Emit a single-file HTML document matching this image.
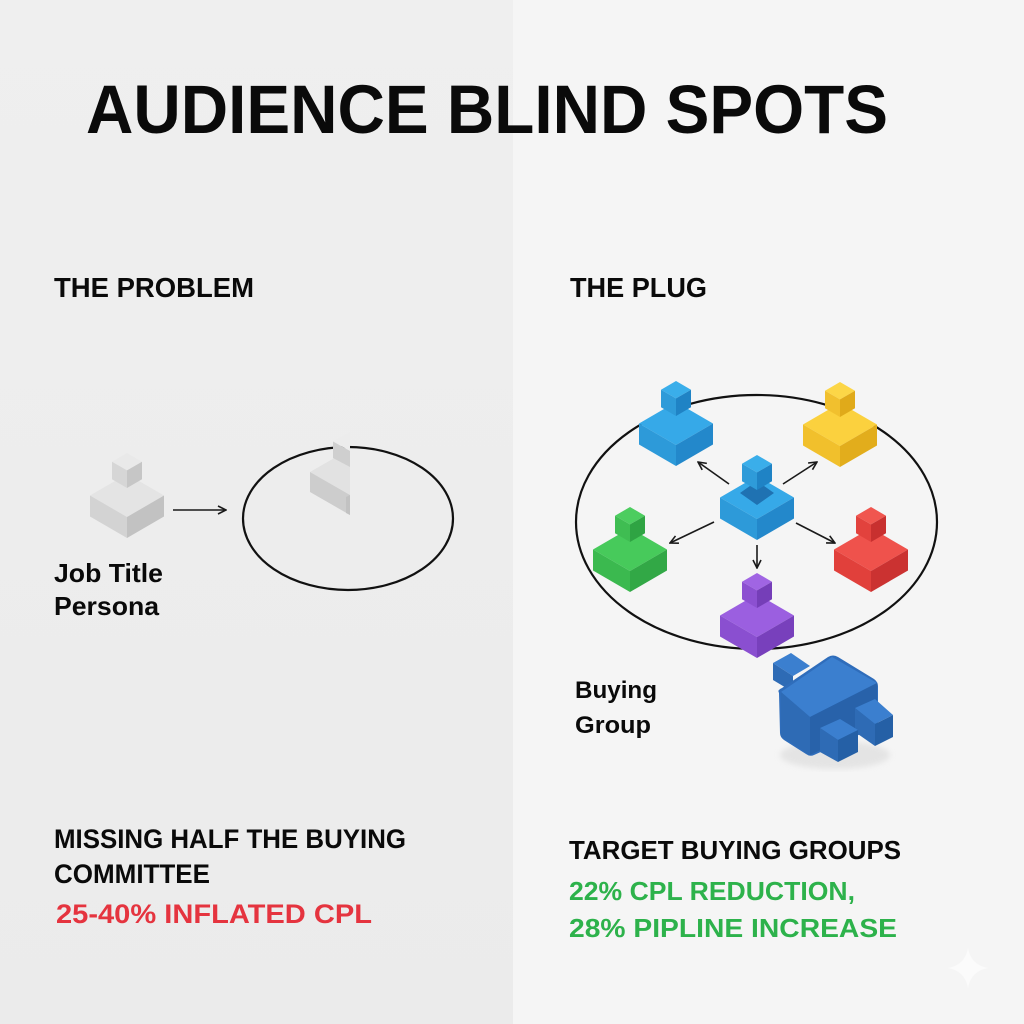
<!DOCTYPE html>
<html>
<head>
<meta charset="utf-8">
<style>
html,body{margin:0;padding:0;}
body{width:1024px;height:1024px;overflow:hidden;background:#f5f5f5;}
svg{display:block;}
text{font-family:"Liberation Sans",Arial,sans-serif;font-weight:bold;}
.gray .t{fill:#e4e4e4}.gray .l{fill:#d3d3d3}.gray .r{fill:#c2c2c2}
.gray .ct{fill:#e9e9e9}.gray .cl{fill:#d6d6d6}.gray .cr{fill:#c6c6c6}
.blue .t{fill:#36a9e8}.blue .l{fill:#2d9ad9}.blue .r{fill:#2388cb}
.blue .ct{fill:#3aaeea}.blue .cl{fill:#2e9bd9}.blue .cr{fill:#1f83c5}
.yellow .t{fill:#fbd13e}.yellow .l{fill:#f1c02c}.yellow .r{fill:#e2ad1c}
.yellow .ct{fill:#fcd647}.yellow .cl{fill:#f1c02e}.yellow .cr{fill:#e0aa1a}
.green .t{fill:#47ca5b}.green .l{fill:#3bb94f}.green .r{fill:#32a846}
.green .ct{fill:#4ccd5f}.green .cl{fill:#3fbd52}.green .cr{fill:#2fa443}
.red .t{fill:#ef524c}.red .l{fill:#e1403b}.red .r{fill:#cb3231}
.red .ct{fill:#f0564f}.red .cl{fill:#e2423d}.red .cr{fill:#c8302f}
.purple .t{fill:#9b5fe0}.purple .l{fill:#8a4fd0}.purple .r{fill:#7840bc}
.purple .ct{fill:#a065e3}.purple .cl{fill:#8c50d1}.purple .cr{fill:#753eb8}
</style>
</head>
<body>
<svg width="1024" height="1024" viewBox="0 0 1024 1024" xmlns="http://www.w3.org/2000/svg">
<defs>
<linearGradient id="lbg" x1="0" y1="0" x2="0" y2="1">
<stop offset="0" stop-color="#efefef"/>
<stop offset="1" stop-color="#ebebeb"/>
</linearGradient>
<marker id="ah" viewBox="0 0 10 10" refX="9" refY="5" markerWidth="10" markerHeight="10" markerUnits="userSpaceOnUse" orient="auto">
<path d="M1,1 L9,5 L1,9" fill="none" stroke="#1a1a1a" stroke-width="1.6"/>
</marker>
<filter id="blur"><feGaussianBlur stdDeviation="3"/></filter>
<g id="pawnshape">
</g>
</defs>

<rect x="0" y="0" width="513" height="1024" fill="url(#lbg)"/>
<rect x="513" y="0" width="511" height="1024" fill="#f5f5f5"/>

<!-- Title -->
<text x="86" y="133" font-size="69" fill="#0a0a0a" textLength="802" lengthAdjust="spacingAndGlyphs">AUDIENCE BLIND SPOTS</text>

<text x="54" y="297" font-size="28" fill="#0a0a0a" textLength="200" lengthAdjust="spacingAndGlyphs">THE PROBLEM</text>
<text x="570" y="297" font-size="28" fill="#0a0a0a" textLength="137" lengthAdjust="spacingAndGlyphs">THE PLUG</text>

<!-- Left gray pawn -->
<g class="gray" transform="translate(127,453)">
<polygon class="t" points="0,21 37,42.5 0,64 -37,42.5"/>
<polygon class="l" points="-37,42.5 0,64 0,85 -37,63.5"/>
<polygon class="r" points="0,64 37,42.5 37,63.5 0,85"/>
<polygon class="ct" points="0,0 15,8.7 0,17.4 -15,8.7"/>
<polygon class="cl" points="-15,8.7 0,17.4 0,35 -15,26.3"/>
<polygon class="cr" points="0,17.4 15,8.7 15,26.3 0,35"/>
</g>

<line x1="173" y1="510" x2="226" y2="510" stroke="#1a1a1a" stroke-width="1.6" marker-end="url(#ah)"/>

<ellipse cx="348" cy="518.5" rx="105" ry="71.5" fill="none" stroke="#111" stroke-width="2.2"/>

<!-- half-cut gray shape -->
<g>
<polygon points="310,472 350,449 350,495" fill="#e2e2e2"/>
<polygon points="310,472 350,495 350,515 310,492" fill="#cdcdcd"/>
<polygon points="350,495 350,515 346,513 346,497" fill="#c2c2c2"/>
<polygon points="350,432 333,441.5 350,451" fill="#ececec"/>
<polygon points="333,441.5 350,451 350,467 333,458" fill="#cfcfcf"/>
</g>

<text x="54" y="582" font-size="26" fill="#0a0a0a" textLength="109" lengthAdjust="spacingAndGlyphs">Job Title</text>
<text x="54" y="615" font-size="26" fill="#0a0a0a" textLength="105" lengthAdjust="spacingAndGlyphs">Persona</text>

<!-- Right ellipse -->
<ellipse cx="756.5" cy="522" rx="180.5" ry="127" fill="none" stroke="#111" stroke-width="2.2"/>

<!-- arrows from center -->
<g stroke="#1a1a1a" stroke-width="1.6" marker-end="url(#ah)">
<line x1="729" y1="484" x2="698" y2="462"/>
<line x1="783" y1="484" x2="817" y2="462"/>
<line x1="714" y1="522" x2="670" y2="543"/>
<line x1="796" y1="523" x2="835" y2="543"/>
<line x1="757" y1="545" x2="757" y2="568"/>
</g>

<!-- Blue top-left -->
<g class="blue" transform="translate(676,381)">
<polygon class="t" points="0,21 37,42.5 0,64 -37,42.5"/>
<polygon class="l" points="-37,42.5 0,64 0,85 -37,63.5"/>
<polygon class="r" points="0,64 37,42.5 37,63.5 0,85"/>
<polygon class="ct" points="0,0 15,8.7 0,17.4 -15,8.7"/>
<polygon class="cl" points="-15,8.7 0,17.4 0,35 -15,26.3"/>
<polygon class="cr" points="0,17.4 15,8.7 15,26.3 0,35"/>
</g>

<!-- Yellow -->
<g class="yellow" transform="translate(840,382)">
<polygon class="t" points="0,21 37,42.5 0,64 -37,42.5"/>
<polygon class="l" points="-37,42.5 0,64 0,85 -37,63.5"/>
<polygon class="r" points="0,64 37,42.5 37,63.5 0,85"/>
<polygon class="ct" points="0,0 15,8.7 0,17.4 -15,8.7"/>
<polygon class="cl" points="-15,8.7 0,17.4 0,35 -15,26.3"/>
<polygon class="cr" points="0,17.4 15,8.7 15,26.3 0,35"/>
</g>

<!-- Center blue -->
<g class="blue" transform="translate(757,455)">
<polygon class="t" points="0,21 37,42.5 0,64 -37,42.5"/>
<polygon class="l" points="-37,42.5 0,64 0,85 -37,63.5"/>
<polygon class="r" points="0,64 37,42.5 37,63.5 0,85"/>
<polygon points="0,26 17,38 0,50 -17,38" fill="#1f72b2"/>
<polygon class="ct" points="0,0 15,8.7 0,17.4 -15,8.7"/>
<polygon class="cl" points="-15,8.7 0,17.4 0,35 -15,26.3"/>
<polygon class="cr" points="0,17.4 15,8.7 15,26.3 0,35"/>
</g>

<!-- Green -->
<g class="green" transform="translate(630,507)">
<polygon class="t" points="0,21 37,42.5 0,64 -37,42.5"/>
<polygon class="l" points="-37,42.5 0,64 0,85 -37,63.5"/>
<polygon class="r" points="0,64 37,42.5 37,63.5 0,85"/>
<polygon class="ct" points="0,0 15,8.7 0,17.4 -15,8.7"/>
<polygon class="cl" points="-15,8.7 0,17.4 0,35 -15,26.3"/>
<polygon class="cr" points="0,17.4 15,8.7 15,26.3 0,35"/>
</g>

<!-- Red -->
<g class="red" transform="translate(871,507)">
<polygon class="t" points="0,21 37,42.5 0,64 -37,42.5"/>
<polygon class="l" points="-37,42.5 0,64 0,85 -37,63.5"/>
<polygon class="r" points="0,64 37,42.5 37,63.5 0,85"/>
<polygon class="ct" points="0,0 15,8.7 0,17.4 -15,8.7"/>
<polygon class="cl" points="-15,8.7 0,17.4 0,35 -15,26.3"/>
<polygon class="cr" points="0,17.4 15,8.7 15,26.3 0,35"/>
</g>

<!-- Purple -->
<g class="purple" transform="translate(757,573)">
<polygon class="t" points="0,21 37,42.5 0,64 -37,42.5"/>
<polygon class="l" points="-37,42.5 0,64 0,85 -37,63.5"/>
<polygon class="r" points="0,64 37,42.5 37,63.5 0,85"/>
<polygon class="ct" points="0,0 15,8.7 0,17.4 -15,8.7"/>
<polygon class="cl" points="-15,8.7 0,17.4 0,35 -15,26.3"/>
<polygon class="cr" points="0,17.4 15,8.7 15,26.3 0,35"/>
</g>

<!-- Plug -->
<g>
<ellipse cx="835" cy="755" rx="55" ry="14" fill="#d9d9d9" opacity="0.6" filter="url(#blur)"/>
<!-- back prong -->
<polygon points="773,663 791,653 810,666 793,676" fill="#3b7fcf"/>
<polygon points="773,663 793,676 793,692 773,680" fill="#2e6bb5"/>
<!-- body -->
<path d="M779,693 Q777,690 782,688 L828,657 Q833,654 838,657 L874,679 Q878,682 878,686 L878,722 Q878,726 874,728 L814,755 Q810,757 806,754 L784,740 Q780,737 780,733 Z" fill="#2f6dbb"/>
<polygon points="781,692 832,657 877,683 810,717" fill="#3b7fcf"/>
<polygon points="781,692 810,717 810,755 781,736" fill="#2e6bb5"/>
<polygon points="810,717 877,683 877,724 810,755" fill="#2862aa"/>
<!-- prong B -->
<polygon points="855,708 875,699 893,715 875,724" fill="#3b7fcf"/>
<polygon points="855,708 875,724 875,746 855,732" fill="#2e6bb5"/>
<polygon points="875,724 893,715 893,737 875,746" fill="#2560a6"/>
<!-- prong A -->
<polygon points="820,728 840,719 858,730 838,740" fill="#3b7fcf"/>
<polygon points="820,728 838,740 838,762 820,752" fill="#2e6bb5"/>
<polygon points="838,740 858,730 858,752 838,762" fill="#2560a6"/>
</g>

<text x="575" y="698" font-size="24" fill="#0a0a0a" textLength="82" lengthAdjust="spacingAndGlyphs">Buying</text>
<text x="575" y="733" font-size="24" fill="#0a0a0a" textLength="76" lengthAdjust="spacingAndGlyphs">Group</text>

<!-- Bottom texts -->
<text x="54" y="848" font-size="27" fill="#0a0a0a" textLength="352" lengthAdjust="spacingAndGlyphs">MISSING HALF THE BUYING</text>
<text x="54" y="883" font-size="27" fill="#0a0a0a" textLength="156" lengthAdjust="spacingAndGlyphs">COMMITTEE</text>
<text x="56" y="923" font-size="27" fill="#e5343f" textLength="316" lengthAdjust="spacingAndGlyphs">25-40% INFLATED CPL</text>

<text x="569" y="859" font-size="26" fill="#0a0a0a" textLength="332" lengthAdjust="spacingAndGlyphs">TARGET BUYING GROUPS</text>
<text x="569" y="900" font-size="26" fill="#2db24b" textLength="286" lengthAdjust="spacingAndGlyphs">22% CPL REDUCTION,</text>
<text x="569" y="937" font-size="26" fill="#2db24b" textLength="328" lengthAdjust="spacingAndGlyphs">28% PIPLINE INCREASE</text>

<!-- sparkle -->
<path d="M968,948 Q971,965 988,968 Q971,971 968,988 Q965,971 948,968 Q965,965 968,948 Z" fill="#fbfbfb"/>
</svg>
</body>
</html>
